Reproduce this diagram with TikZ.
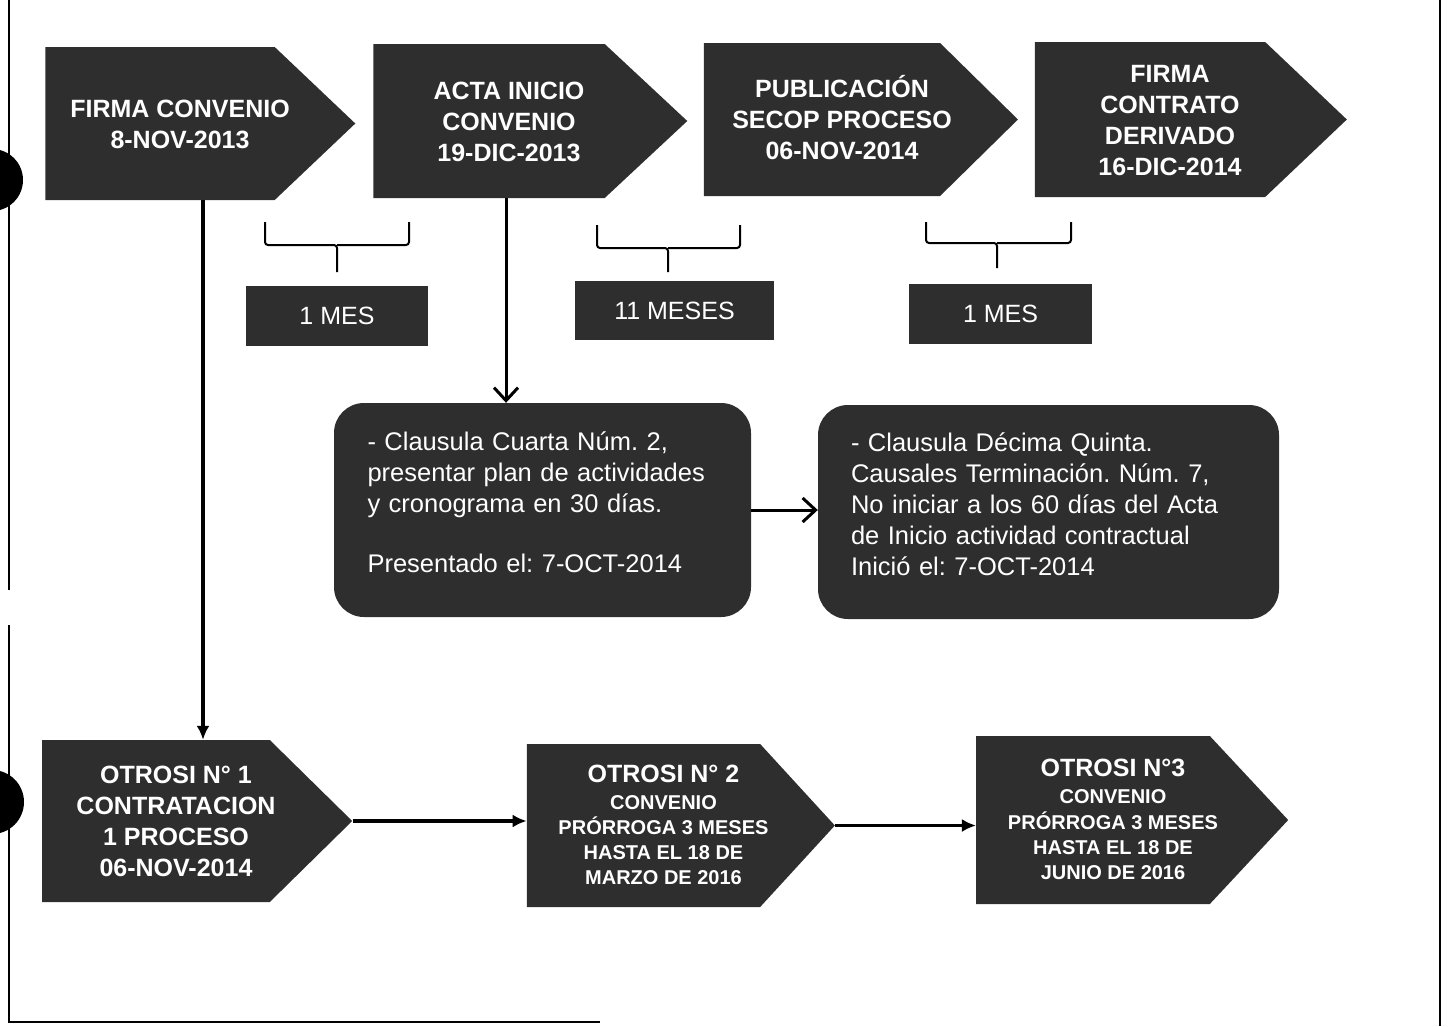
\documentclass[tikz,border=0pt]{standalone}
\usepackage{fontspec}
\setmainfont{Liberation Sans}
\usetikzlibrary{positioning, arrows.meta, shapes.symbols}
\definecolor{scangray}{HTML}{2E2E2E}
% texto de las flechas, corrido a la derecha
\newcommand{\rotulo}[1]{\begin{tabular}{@{\hspace{20pt}}c@{\hspace{-20pt}}}#1\\[-6pt]\end{tabular}}
% texto de las clausulas, algo mas arriba
\newcommand{\parrafo}[1]{\begin{tabular}{@{}l@{}}#1\\[9pt]\end{tabular}}
\frenchspacing

\begin{document}
\begin{tikzpicture}[x=1pt, y=-1pt,
        hito/.style={signal, signal to=east, fill=scangray, text=white, inner sep=0pt, font=\bfseries\fontsize{25}{31}\selectfont},
        otrosi/.style={hito, font=\bfseries\fontsize{20}{25}\selectfont},
        plazo/.style={rectangle, fill=scangray, text=white, inner sep=0pt, font=\fontsize{25}{30}\selectfont},
        clausula/.style={rectangle, rounded corners=30pt, fill=scangray, text=white, align=left, inner sep=0pt, font=\fontsize{25.5}{31}\selectfont},
        llave/.style={line width=2pt, rounded corners=3pt},
        arrow/.style={line width=3.5pt, -{Latex[length=14pt,width=13pt]}},
        barb/.style={line width=3pt, -{Straight Barb[length=13pt,width=24pt,line width=3pt]}}
    ]
    \useasboundingbox (0,0) rectangle (1450,1026);
    % marco de la hoja
    \draw[line width=2pt] (9,0) -- (9,590) (9,625) -- (9,1022) -- (600,1022);
    \draw[line width=2pt] (1440,0) -- (1440,1026);
    \fill (-8,180) circle (31);
    \fill (-8,802) circle (32);

    % primera fila
    \node[hito, minimum width=310, minimum height=153, signal pointer angle=87] (firma) at (160,123.5) {\rotulo{FIRMA CONVENIO\\8-NOV-2013}};
    \node[hito, minimum width=314, minimum height=154, signal pointer angle=86] (acta) at (489,121) {\rotulo{ACTA INICIO\\CONVENIO\\19-DIC-2013}};
    \node[hito, minimum width=314, minimum height=153, signal pointer angle=89] (secop) at (822,119.5) {\rotulo{PUBLICACIÓN\\SECOP PROCESO\\06-NOV-2014}};
    \node[hito, minimum width=312, minimum height=155, signal pointer angle=87] (contrato) at (1150,119.5) {\rotulo{FIRMA\\CONTRATO\\DERIVADO\\16-DIC-2014}};

    % plazos
    \draw[llave] (265,222) |- (337,245) -- (337,272);
    \draw[llave] (409,222) |- (337,245);
    \draw[llave] (597,225) |- (668,248) -- (668,272);
    \draw[llave] (740,225) |- (668,248);
    \draw[llave] (926,222) |- (997,243) -- (997,268);
    \draw[llave] (1071,222) |- (997,243);
    \node[plazo, minimum width=182, minimum height=60] (mes1) at (337,316) {1 MES};
    \node[plazo, minimum width=199, minimum height=59] (mes2) at (674.5,310.5) {11 MESES};
    \node[plazo, minimum width=183, minimum height=60] (mes3) at (1000.5,314) {1 MES};

    % clausulas
    \node[clausula, minimum width=417, minimum height=214, text width=350] (cuarta) at (542.5,510) {\parrafo{- Clausula Cuarta Núm. 2,\\presentar plan de actividades\\y cronograma en 30 días.\\[29pt]Presentado el: 7-OCT-2014}};
    \node[clausula, minimum width=461, minimum height=214, text width=395] (quinta) at (1048.5,512) {\parrafo{- Clausula Décima Quinta.\\Causales Terminación. Núm. 7,\\No iniciar a los 60 días del Acta\\de Inicio actividad contractual\\Inició el: 7-OCT-2014}};

    % segunda fila
    \node[hito, minimum width=310, minimum height=162, signal pointer angle=89] (otrosi1) at (156,821) {\rotulo{OTROSI N° 1\\CONTRATACION\\1 PROCESO\\06-NOV-2014}};
    \node[otrosi, minimum width=308, minimum height=163, signal pointer angle=95] (otrosi2) at (643.5,825.5) {\rotulo{{\fontsize{25}{25}\selectfont OTROSI N° 2}\\[2pt]CONVENIO\\PRÓRROGA 3 MESES\\HASTA EL 18 DE\\MARZO DE 2016}};
    \node[otrosi, minimum width=312, minimum height=168, signal pointer angle=94] (otrosi3) at (1093,820) {\rotulo{{\fontsize{25}{25}\selectfont OTROSI N°3}\\[2pt]CONVENIO\\PRÓRROGA 3 MESES\\HASTA EL 18 DE\\JUNIO DE 2016}};

    % conexiones
    \draw[arrow] ([xshift=43pt]firma.south) -- ([xshift=43pt]firma.south |- otrosi1.north);
    \draw[barb] ([xshift=17pt]acta.south) -- ([xshift=17pt]acta.south |- cuarta.north);
    \draw[barb] (cuarta.east) -- (quinta.west |- cuarta.east);
    \draw[arrow] (otrosi1.east) -- (otrosi1.east -| otrosi2.west);
    \draw[arrow] (otrosi2.east) -- (otrosi2.east -| otrosi3.west);
\end{tikzpicture}
\end{document}
